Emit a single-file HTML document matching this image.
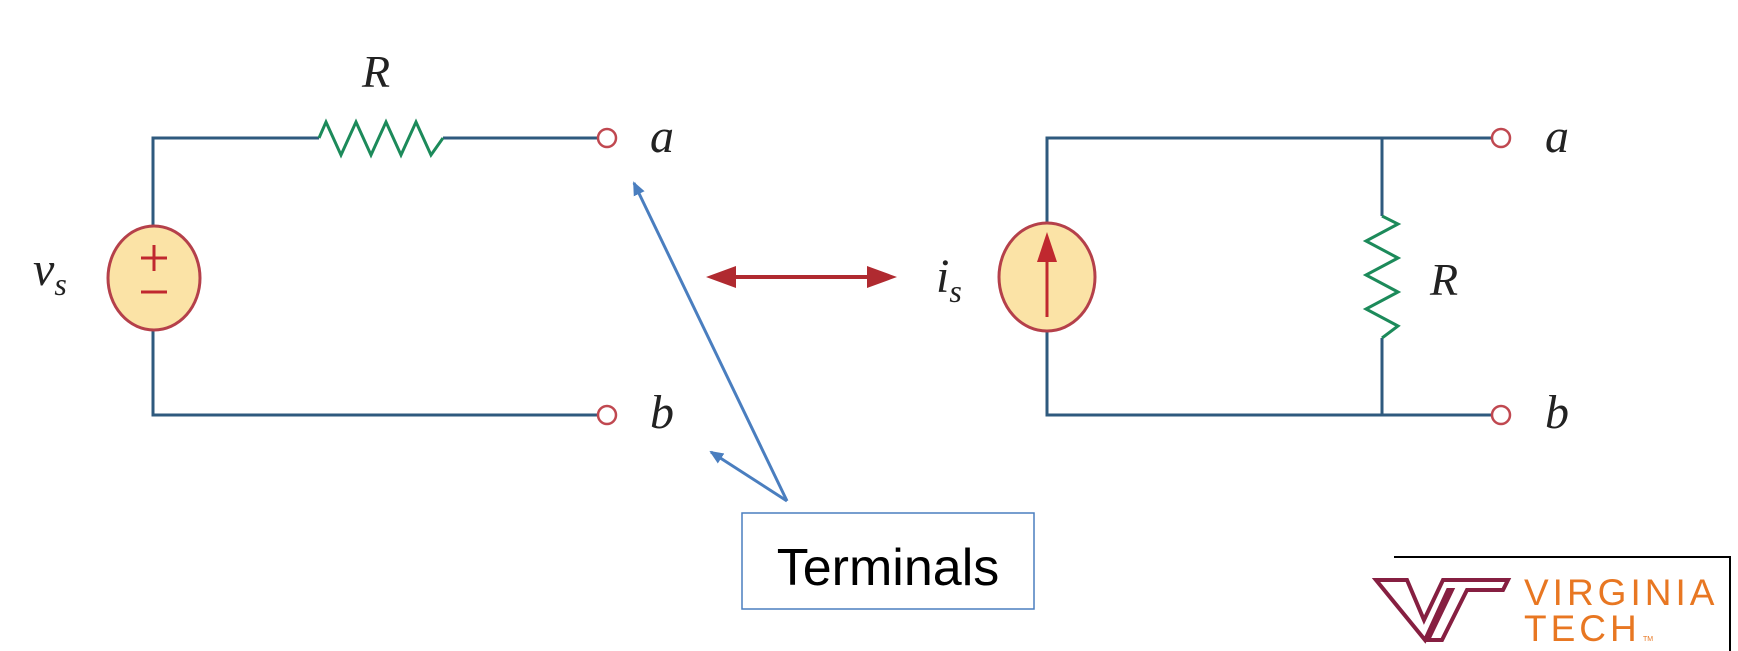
<!DOCTYPE html>
<html><head><meta charset="utf-8"><style>
html,body{margin:0;padding:0;background:#fff;}
svg{display:block;}
.it{font-family:"Liberation Serif",serif;font-style:italic;fill:#222;}
</style></head><body>
<svg width="1738" height="651" viewBox="0 0 1738 651">
<defs>
<marker id="bh" markerWidth="14" markerHeight="14" refX="12" refY="7" orient="auto" markerUnits="userSpaceOnUse" viewBox="0 0 14 14"><path d="M0,1 L14,7 L0,13 z" fill="#4a7ebf"/></marker>
</defs>
<g fill="none" stroke="#2f5a7e" stroke-width="3">
<path d="M153,226 V138 H319 M443,138 H598 M153,330 V415 H598"/>
<polyline points="319,138 326,122 341,155 356,122 371,155 386,122 401,155 416,122 431,155 443,138" stroke="#1c8a5a"/>
<ellipse cx="154" cy="278" rx="46" ry="52" fill="#fbe3a6" stroke="#b5404a" stroke-width="3"/>
<path d="M154,245 V271 M141,258 H167 M141,292 H167" stroke="#c0282f" stroke-width="3"/>
<circle cx="607" cy="138" r="9" stroke="#c04850" stroke-width="2.5" fill="#fff"/>
<circle cx="607" cy="415" r="9" stroke="#c04850" stroke-width="2.5" fill="#fff"/>
</g>
<text x="362" y="87" class="it" font-size="46">R</text>
<text x="650" y="152" class="it" font-size="48">a</text>
<text x="650" y="428" class="it" font-size="48">b</text>
<text x="33" y="285" class="it" font-size="48">v<tspan font-size="32" dy="10">s</tspan></text>

<line x1="730" y1="277" x2="875" y2="277" stroke="#b02a30" stroke-width="4"/>
<path d="M706,277 L736,266 L736,288 z M897,277 L867,266 L867,288 z" fill="#b02a30"/>

<g fill="none" stroke="#2f5a7e" stroke-width="3">
<path d="M1047,223 V138 H1492 M1382,138 V216 M1382,338 V415 M1047,331 V415 H1492"/>
<polyline points="1382,216 1398,224 1366,241 1398,258 1366,275 1398,292 1366,309 1398,326 1382,338" stroke="#1c8a5a"/>
<ellipse cx="1047" cy="277" rx="48" ry="54" fill="#fbe3a6" stroke="#b5404a" stroke-width="3"/>
<path d="M1047,317 V255" stroke="#c0282f" stroke-width="3"/>
<path d="M1047,232 L1037,262 L1057,262 z" fill="#c0282f" stroke="none"/>
<circle cx="1501" cy="138" r="9" stroke="#c04850" stroke-width="2.5" fill="#fff"/>
<circle cx="1501" cy="415" r="9" stroke="#c04850" stroke-width="2.5" fill="#fff"/>
</g>
<text x="1430" y="295" class="it" font-size="46">R</text>
<text x="1545" y="152" class="it" font-size="48">a</text>
<text x="1545" y="428" class="it" font-size="48">b</text>
<text x="936" y="292" class="it" font-size="48">i<tspan font-size="32" dy="10">s</tspan></text>

<g stroke="#4a7ebf" stroke-width="3">
<line x1="787" y1="501" x2="634" y2="183" marker-end="url(#bh)"/>
<line x1="787" y1="501" x2="711" y2="452" marker-end="url(#bh)"/>
</g>
<rect x="742" y="513" width="292" height="96" fill="#fff" stroke="#4a7ebf" stroke-width="1.5"/>
<text x="888" y="585" text-anchor="middle" font-family="Liberation Sans, sans-serif" font-size="52" fill="#000">Terminals</text>

<g>
<path d="M1394,557 H1730 V651" fill="none" stroke="#000" stroke-width="2"/>
<path d="M1376,580 H1407 L1424,620 L1443,580 H1508 L1503,590 H1467 L1442,640 H1428 L1452,590 H1448 L1425,640 Z" fill="none" stroke="#861f41" stroke-width="4" stroke-linejoin="miter"/>
<text x="1524" y="605" font-family="Liberation Sans, sans-serif" font-size="37" fill="#e87722" letter-spacing="4">VIRGINIA</text>
<text x="1524" y="641" font-family="Liberation Sans, sans-serif" font-size="37" fill="#e87722" letter-spacing="4">TECH</text>
<text x="1643" y="641" font-family="Liberation Sans, sans-serif" font-size="7" fill="#e87722">TM</text>
</g>
</svg>
</body></html>
